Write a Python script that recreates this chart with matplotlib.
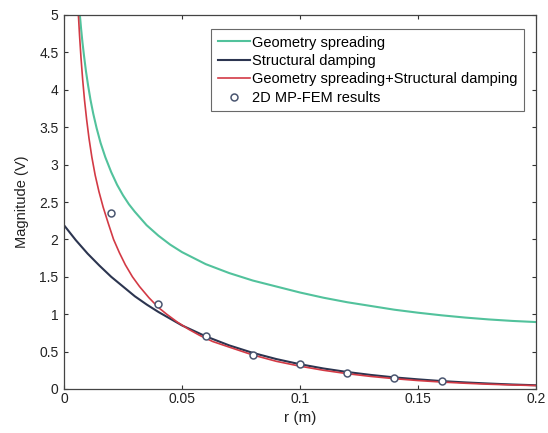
import matplotlib
matplotlib.use('Agg')
import matplotlib.pyplot as plt

# 读取图中的数值 (r, magnitude)
r_geo = [0.0067, 0.0072, 0.0078, 0.0085, 0.0093, 0.0102, 0.0112, 0.0124, 0.0138, 0.0155,
         0.0175, 0.02, 0.0225, 0.025, 0.0275, 0.03, 0.035, 0.04, 0.045, 0.05,
         0.055, 0.06, 0.07, 0.08, 0.09, 0.1, 0.11, 0.12, 0.13, 0.14,
         0.15, 0.16, 0.17, 0.18, 0.19, 0.2]
v_geo = [5.01, 4.83, 4.64, 4.45, 4.25, 4.06, 3.87, 3.68, 3.49, 3.29,
         3.10, 2.90, 2.73, 2.59, 2.47, 2.37, 2.19, 2.05, 1.93, 1.83,
         1.75, 1.67, 1.55, 1.45, 1.37, 1.29, 1.22, 1.16, 1.11, 1.06,
         1.02, 0.985, 0.955, 0.93, 0.91, 0.895]

r_damp = [0, 0.005, 0.01, 0.015, 0.02, 0.025, 0.03, 0.035, 0.04, 0.045, 0.05,
          0.06, 0.07, 0.08, 0.09, 0.1, 0.11, 0.12, 0.13, 0.14, 0.15,
          0.16, 0.17, 0.18, 0.19, 0.2]
v_damp = [2.19, 1.99, 1.81, 1.65, 1.50, 1.37, 1.24, 1.13, 1.03, 0.94, 0.85,
          0.705, 0.583, 0.483, 0.400, 0.331, 0.274, 0.227, 0.188, 0.155, 0.129,
          0.106, 0.088, 0.073, 0.060, 0.050]

r_both = [0.0061, 0.0066, 0.0072, 0.0079, 0.0087, 0.0096, 0.0106, 0.0118, 0.0132, 0.0148,
          0.0166, 0.0187, 0.021, 0.0235, 0.026, 0.029, 0.032, 0.036, 0.04, 0.0435,
          0.048, 0.053, 0.0576, 0.063, 0.07, 0.08, 0.09, 0.1, 0.11, 0.12,
          0.13, 0.14, 0.15, 0.16, 0.17, 0.18, 0.19, 0.2]
v_both = [5.0, 4.72, 4.43, 4.14, 3.86, 3.60, 3.35, 3.10, 2.86, 2.64,
          2.43, 2.22, 2.0, 1.82, 1.66, 1.50, 1.37, 1.22, 1.09, 1.0,
          0.895, 0.795, 0.715, 0.635, 0.56, 0.455, 0.37, 0.305, 0.25, 0.205,
          0.168, 0.138, 0.113, 0.093, 0.077, 0.064, 0.054, 0.046]

r_fem = [0.02, 0.04, 0.06, 0.08, 0.1, 0.12, 0.14, 0.16]
v_fem = [2.35, 1.13, 0.71, 0.45, 0.334, 0.21, 0.143, 0.107]

xticks = [0, 0.05, 0.1, 0.15, 0.2]
xtick_labels = ['0', '0.05', '0.1', '0.15', '0.2']
yticks = [0, 0.5, 1, 1.5, 2, 2.5, 3, 3.5, 4, 4.5, 5]
ytick_labels = ['0', '0.5', '1', '1.5', '2', '2.5', '3', '3.5', '4', '4.5', '5']

plt.rcParams['font.family'] = ['Liberation Sans', 'DejaVu Sans']

fig = plt.figure(figsize=(5.48, 4.33), dpi=100)
ax = fig.add_axes([64/548, 1-389/433, 472/548, 374/433])

ax.plot(r_geo, v_geo, color='#52c29c', lw=1.5, label='Geometry spreading')
ax.plot(r_damp, v_damp, color='#2c3550', lw=1.5, label='Structural damping')
ax.plot(r_both, v_both, color='#d33a45', lw=1.2, label='Geometry spreading+Structural damping')
ax.plot(r_fem, v_fem, 'o', ms=5, mfc='white', mec='#4a5670', mew=1.1,
        label='2D MP-FEM results')

ax.set_xlim(0, 0.2)
ax.set_ylim(0, 5)
ax.set_xticks(xticks)
ax.set_xticklabels(xtick_labels)
ax.set_yticks(yticks)
ax.set_yticklabels(ytick_labels)
ax.tick_params(direction='in', top=True, right=True, labelsize=10, length=3,
               colors='#333333', labelcolor='#222222')
ax.tick_params(axis='x', pad=2)
ax.tick_params(axis='y', pad=4)
for s in ax.spines.values():
    s.set_color('#444444')
    s.set_linewidth(0.9)

ax.set_xlabel('r (m)', fontsize=11, color='#222222', labelpad=4)
ax.set_ylabel('Magnitude (V)', fontsize=10.5, color='#222222', labelpad=7)

leg = ax.legend(loc='upper left', bbox_to_anchor=(211/548, 1-29/433),
                bbox_transform=fig.transFigure, prop={'size': 10.5},
                frameon=True, fancybox=False, edgecolor='#444444',
                handlelength=2.2, handletextpad=0.15, labelspacing=0.3,
                borderpad=0.45, borderaxespad=0)
leg.get_frame().set_linewidth(0.8)

fig.savefig('out.png', dpi=100)
